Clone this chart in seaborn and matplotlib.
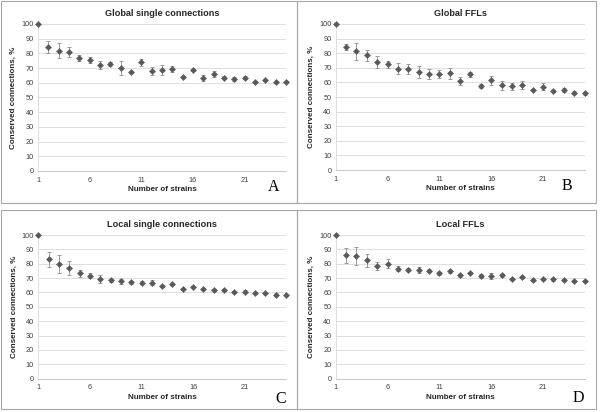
import numpy as np
import pandas as pd
import matplotlib
matplotlib.use("Agg")
import matplotlib.pyplot as plt
from matplotlib.patches import Rectangle
import seaborn as sns

sns.set_theme(style="white")
plt.rcParams['font.family'] = ['Liberation Sans', 'DejaVu Sans']

strains = list(range(1, 26))
x_ticks = [1, 6, 11, 16, 21]
y_ticks = [0, 10, 20, 30, 40, 50, 60, 70, 80, 90, 100]

titles = ["Global single connections", "Global FFLs", "Local single connections", "Local FFLs"]
letters = ["A", "B", "C", "D"]

global_single = [100, 84.1, 81.9, 81.0, 76.9, 75.7, 72.1, 73.0, 69.8, 67.3, 73.9, 68.0, 68.7,
                 69.4, 63.9, 68.7, 63.3, 66.0, 63.5, 62.4, 63.5, 60.8, 62.1, 60.5, 60.3]
global_single_err = [0, 4, 5.2, 3.3, 2, 2, 2.5, 1.3, 4.8, 0.8, 2.3, 2.8, 3.5, 2.3, 0.8, 0.8,
                     1.8, 2.3, 0.8, 1.5, 0.8, 0.7, 0.7, 0.7, 0.7]

global_ffl = [100, 84.2, 81.3, 78.5, 74.0, 72.4, 69.4, 69.0, 67.1, 65.8, 65.8, 66.2, 61.2,
              65.5, 57.5, 61.4, 58.0, 57.3, 58.0, 54.8, 57.1, 54.3, 54.6, 53.0, 52.5]
global_ffl_err = [0, 2.3, 5.7, 3.7, 4, 2.5, 3.7, 3.3, 4, 3.3, 2.8, 3.8, 2.8, 1.5, 1.5, 3, 3,
                  2.5, 2.8, 0.8, 2.3, 0.8, 1.5, 0.8, 0.8]

local_single = [100, 83.1, 79.8, 77.0, 73.3, 71.7, 69.4, 68.4, 67.7, 67.0, 66.8, 66.8, 64.3,
                66.1, 62.4, 63.8, 62.2, 61.5, 61.7, 60.1, 60.6, 59.4, 59.4, 58.5, 58.2]
local_single_err = [0, 5.2, 6.5, 5, 2.3, 1.8, 3, 1, 1.8, 1, 1, 1.8, 0.8, 0.8, 0.8, 0.8, 0.8,
                    0.8, 0.8, 0.8, 0.8, 0.8, 0.8, 0.8, 0.8]

local_ffl = [100, 85.8, 85.4, 82.4, 78.7, 80.0, 76.6, 75.9, 75.9, 75.2, 73.3, 74.7, 71.9,
             73.5, 71.7, 71.5, 71.9, 69.4, 70.8, 68.7, 69.6, 69.1, 68.7, 68.2, 68.0]
local_ffl_err = [0, 5.2, 6, 4.7, 2.8, 3.3, 2, 0.8, 2, 0.8, 1, 0.8, 0.8, 0.8, 1.5, 2, 0.8, 0.8,
                 0.8, 0.8, 0.8, 0.8, 0.8, 0.8, 0.8]

series = [(global_single, global_single_err), (global_ffl, global_ffl_err),
          (local_single, local_single_err), (local_ffl, local_ffl_err)]

W, H = 600, 412
fig = plt.figure(figsize=(6, 4.12), dpi=100)

def fx(px):
    return px / W

def fy(py):
    return 1 - py / H

# panel boxes (pixel coords: x0, y0, x1, y1)
boxes = [(1, 1, 297, 203), (297, 1, 596, 203), (1, 210, 297, 409), (297, 210, 596, 409)]
for (x0, y0, x1, y1) in boxes:
    fig.patches.append(Rectangle((fx(x0), fy(y1)), fx(x1 - x0), (y1 - y0) / H,
                                 transform=fig.transFigure, fill=False,
                                 edgecolor="#a6a6a6", linewidth=0.8))

# axes rects in pixels: left, top(100), right, bottom(0)
rects = [(38, 24, 286, 171), (335.7, 24, 584.5, 170), (38.3, 235, 286, 378.7), (335.7, 235, 584.5, 378.7)]
letter_pos = [(274, 187), (567, 186), (281, 399), (578, 398)]

for i, (l, t, r, b) in enumerate(rects):
    ax = fig.add_axes([fx(l), fy(b), fx(r - l), (b - t) / H])
    vals, errs = series[i]
    df = pd.DataFrame({"strains": strains, "value": vals, "err": errs})
    ax.errorbar(df["strains"], df["value"], yerr=df["err"], fmt="none",
                ecolor="#8c8c8c", elinewidth=0.6, capsize=1.6, capthick=0.6, zorder=2,
                clip_on=False)
    sns.scatterplot(data=df, x="strains", y="value", marker="D", s=10, color="#595959",
                    edgecolor="#595959", linewidth=0.3, ax=ax, zorder=3, clip_on=False)
    ax.set_xlim(1, 25)
    ax.set_ylim(0, 100)
    ax.set_xticks(x_ticks)
    ax.set_yticks(y_ticks)
    ax.set_xticklabels([str(v) for v in x_ticks], fontsize=5.3, color="#404040")
    ax.set_yticklabels([str(v) for v in y_ticks], fontsize=5.3, color="#404040")
    ax.tick_params(axis="x", length=0, pad=4)
    ax.tick_params(axis="y", length=0, pad=3)
    ax.grid(axis="y", color="#d9d9d9", linewidth=0.6)
    ax.grid(axis="x", visible=False)
    for s in ["top", "right"]:
        ax.spines[s].set_visible(False)
    ax.spines["left"].set_color("#d9d9d9")
    ax.spines["left"].set_linewidth(0.6)
    ax.spines["bottom"].set_color("#bfbfbf")
    ax.spines["bottom"].set_linewidth(0.6)
    ax.set_xlabel("Number of strains", fontsize=5.8, fontweight="bold", color="#262626", labelpad=2)
    ax.set_ylabel("Conserved connections, %", fontsize=5.8, fontweight="bold", color="#262626", labelpad=3)
    ax.set_title(titles[i], fontsize=6.6, fontweight="bold", color="#262626", pad=6)
    ax.set_facecolor("white")
    lx, ly = letter_pos[i]
    fig.text(fx(lx), fy(ly), letters[i], fontsize=11.5, family="Liberation Serif",
             ha="center", va="center", color="black")

fig.savefig("out.png", dpi=100)
